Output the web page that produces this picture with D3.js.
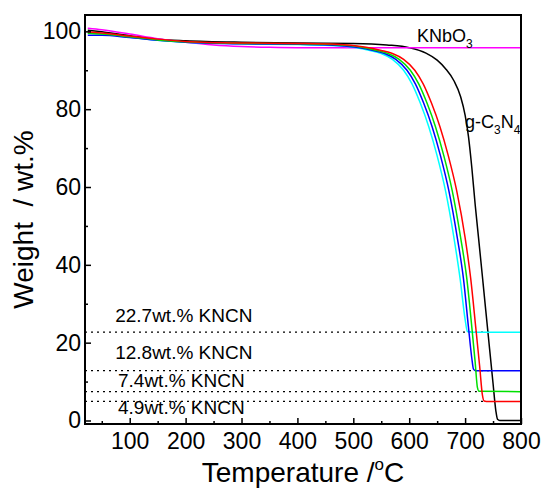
<!DOCTYPE html>
<html>
<head>
<meta charset="utf-8">
<script src="https://cdn.jsdelivr.net/npm/d3@7"></script>
<style>
  body { margin: 0; background: #fff; }
  text { font-family: "Liberation Sans", Arial, sans-serif; fill: #000; }
</style>
</head>
<body>
<div id="chart"></div>
<script>
// TGA curves, [temperature (°C), weight (wt.%)]
const gC3N4 = [[25,100.3],[50,99.9],[100,98.9],[150,98.0],[200,97.6],[300,97.2],[400,97.0],[500,96.9],[560,96.5],[600,95.8],[630,94.4],[650,92.6],[665,90.4],[680,87.3],[692,83.2],[700,78.5],[706,73],[712,65],[718,55.5],[724,47],[732,35.5],[742,21],[750,9.5],[755,2.5],[758,0.3],[762,0],[800,0]];
const knbo3 = [[25,100.8],[50,100.4],[100,99.3],[150,98.1],[200,97.2],[250,96.5],[300,96.1],[350,95.9],[400,95.8],[800,95.8]];
const kncn227 = [[25,99.6],[50,99.3],[100,98.5],[150,97.7],[200,97.2],[300,96.8],[400,96.6],[450,96.4],[500,95.9],[530,95.1],[550,94.3],[570,92.8],[590,90],[605,86.5],[620,81.5],[635,75.5],[650,68],[665,59],[680,47],[691,36.5],[700,26],[704,22.9],[708,22.7],[800,22.7]];
const kncn128 = [[25,99.0],[50,99.0],[100,98.4],[150,97.7],[200,97.2],[300,96.8],[400,96.7],[456,96.5],[506,95.9],[536,95.1],[556,94.3],[576,92.8],[596,90],[611,86.5],[626,81.5],[641,75.5],[656,68],[671,59],[686,47],[697,36.5],[706,24],[712,16],[715,13.2],[719,12.8],[800,12.8]];
const kncn74 = [[25,99.5],[50,99.3],[100,98.6],[150,97.8],[200,97.3],[300,96.9],[400,96.8],[462,96.6],[512,96.0],[542,95.1],[562,94.3],[582,92.8],[602,90],[617,86.5],[632,81.5],[647,75.5],[662,68],[677,59],[692,47],[703,36.5],[712,24],[718,15],[722,8.5],[725,7.5],[800,7.4]];
const kncn49 = [[25,99.8],[50,99.6],[100,98.8],[150,98.0],[200,97.4],[300,97.0],[400,96.9],[470,96.7],[520,96.0],[550,95.1],[570,94.3],[590,92.8],[610,90],[625,86.5],[640,81.5],[655,75.5],[670,68],[685,59],[700,47],[710,36.5],[719,24],[726,14],[731,6.5],[734,5],[738,4.9],[800,4.9]];

const seriesNames = ['g-C3N4', 'KNbO3', '22.7', '12.8', '7.4', '4.9'];
const seriesColors = ['#000000', '#ff00ff', '#00ffff', '#0000ff', '#00e000', '#ff0000'];

// residue levels (dotted reference lines)
const kncnLevels = [22.7, 12.8, 7.4, 4.9];
const kncnLineEnd = [750, 750, 721, 733];
const kncnLabels = ['22.7wt.% KNCN', '12.8wt.% KNCN', '7.4wt.% KNCN', '4.9wt.% KNCN'];

const xTicks = [100, 200, 300, 400, 500, 600, 700, 800];
const xMinor = [50, 150, 250, 350, 450, 550, 650, 750];
const yTicks = [0, 20, 40, 60, 80, 100];
const yMinor = [10, 30, 50, 70, 90];

class TgaChart {

    constructor(_config) {
        this.config = {
            parentElement: _config.parentElement,
            containerWidth: _config.containerWidth || 542,
            containerHeight: _config.containerHeight || 494,
            margin: { top: 15, bottom: 70, right: 21, left: 85 }
        }
        this.initVis();
    }

    initVis() {
        let vis = this;

        vis.width = vis.config.containerWidth - vis.config.margin.left - vis.config.margin.right;
        vis.height = vis.config.containerHeight - vis.config.margin.top - vis.config.margin.bottom;

        vis.svg = d3.select(vis.config.parentElement).append('svg')
            .attr('width', vis.config.containerWidth)
            .attr('height', vis.config.containerHeight);

        vis.xScale = d3.scaleLinear().domain([20, 800]).range([0, vis.width]);
        vis.yScale = d3.scaleLinear().domain([-0.9, 104.2]).range([vis.height, 0]);

        vis.chart = vis.svg.append('g')
            .attr('transform', `translate(${vis.config.margin.left}, ${vis.config.margin.top})`);

        // dotted residue lines
        vis.chart.selectAll('.ref')
            .data(kncnLevels)
            .join('line')
            .attr('x1', vis.xScale(20))
            .attr('x2', (d, i) => vis.xScale(kncnLineEnd[i]))
            .attr('y1', d => vis.yScale(d))
            .attr('y2', d => vis.yScale(d))
            .attr('stroke', '#000')
            .attr('stroke-width', 1.2)
            .attr('stroke-dasharray', '2,4');

        const curves = [gC3N4, knbo3, kncn227, kncn128, kncn74, kncn49];
        const line = d3.line()
            .x(d => vis.xScale(d[0]))
            .y(d => vis.yScale(d[1]))
            .curve(d3.curveMonotoneX);

        vis.chart.selectAll('.curve')
            .data(curves)
            .join('path')
            .attr('class', 'curve')
            .attr('fill', 'none')
            .attr('stroke', (d, i) => seriesColors[i])
            .attr('stroke-width', 1.5)
            .attr('d', line);

        // axes, ticks pointing inwards
        vis.chart.append('g')
            .attr('transform', `translate(0, ${vis.height})`)
            .call(d3.axisBottom(vis.xScale).tickValues(xTicks).tickSize(-6).tickPadding(9))
            .call(g => g.select('.domain').remove())
            .call(g => g.selectAll('text').attr('font-size', 23));
        vis.chart.append('g')
            .attr('transform', `translate(0, ${vis.height})`)
            .call(d3.axisBottom(vis.xScale).tickValues(xMinor).tickSize(-3).tickFormat(''))
            .call(g => g.select('.domain').remove());

        vis.chart.append('g')
            .call(d3.axisLeft(vis.yScale).tickValues(yTicks).tickSize(-6).tickPadding(4))
            .call(g => g.select('.domain').remove())
            .call(g => g.selectAll('text').attr('font-size', 23));
        vis.chart.append('g')
            .call(d3.axisLeft(vis.yScale).tickValues(yMinor).tickSize(-3).tickFormat(''))
            .call(g => g.select('.domain').remove());

        vis.chart.selectAll('.tick line').attr('stroke-width', 1.5);

        vis.chart.append('rect')
            .attr('width', vis.width)
            .attr('height', vis.height)
            .attr('fill', 'none')
            .attr('stroke', '#000')
            .attr('stroke-width', 2);

        // residue labels
        const labelDy = [-10, -12, -5, 13];
        vis.chart.selectAll('.kncn')
            .data(kncnLabels)
            .join('text')
            .attr('x', (d, i) => vis.xScale(i < 2 ? 74 : 79))
            .attr('y', (d, i) => vis.yScale(kncnLevels[i]) + labelDy[i])
            .attr('font-size', 19)
            .text(d => d);

        // curve labels with subscripts
        const knb = vis.chart.append('text')
            .attr('x', 332).attr('y', 27).attr('font-size', 18);
        knb.append('tspan').text('KNbO');
        knb.append('tspan').attr('font-size', 12).attr('dy', 6).text('3');

        const gcn = vis.chart.append('text')
            .attr('x', 380).attr('y', 113).attr('font-size', 18);
        gcn.append('tspan').text('g-C');
        gcn.append('tspan').attr('font-size', 12).attr('dy', 6).text('3');
        gcn.append('tspan').attr('dy', -6).text('N');
        gcn.append('tspan').attr('font-size', 12).attr('dy', 6).text('4');

        // axis titles
        const xt = vis.svg.append('text')
            .attr('x', vis.config.margin.left + vis.width / 2)
            .attr('y', 482)
            .attr('text-anchor', 'middle')
            .attr('font-size', 28);
        xt.append('tspan').text('Temperature /');
        xt.append('tspan').attr('font-size', 17).attr('dy', -12).text('o');
        xt.append('tspan').attr('dy', 12).text('C');

        vis.svg.append('text')
            .attr('transform', `translate(33, ${vis.config.margin.top + vis.height / 2}) rotate(-90)`)
            .attr('text-anchor', 'middle')
            .attr('font-size', 28)
            .attr('xml:space', 'preserve')
            .text('Weight  / wt.%');
    }
}

new TgaChart({ parentElement: '#chart' });
</script>
</body>
</html>
